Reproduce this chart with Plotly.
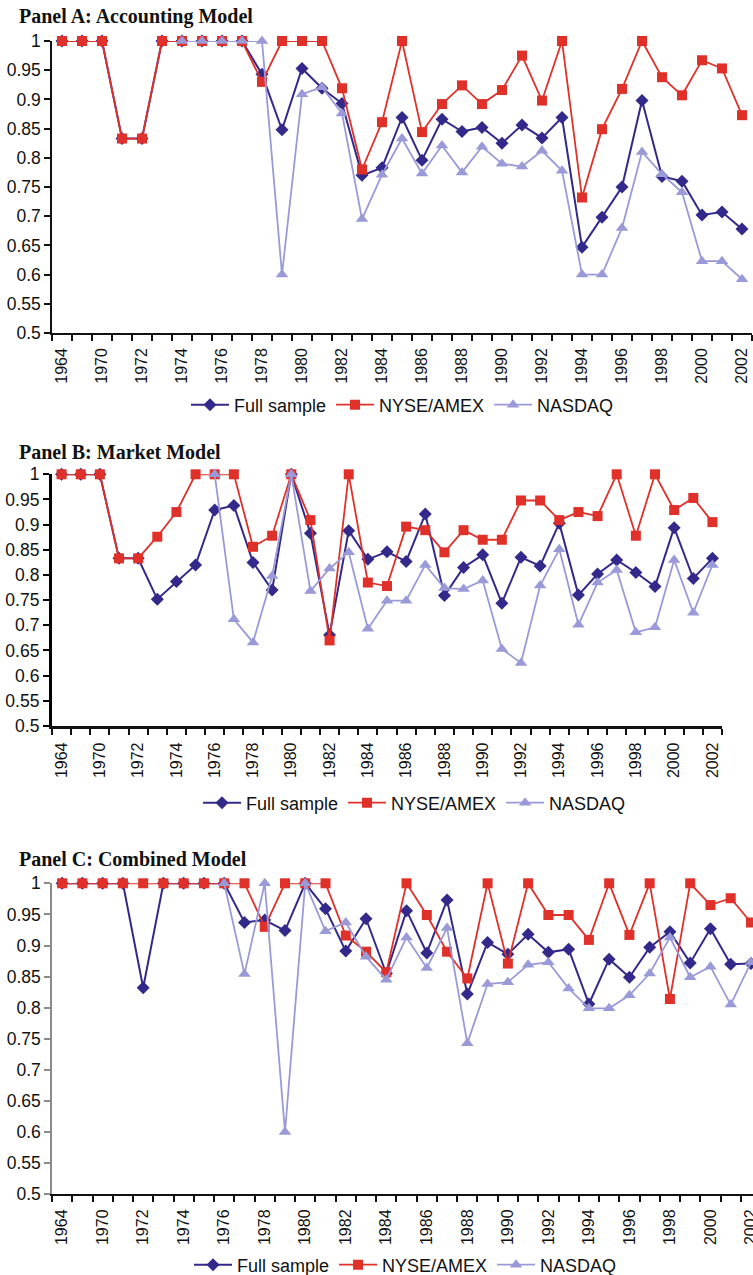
import plotly.graph_objects as go

# ---------------- data ----------------
years = ["1964", "1969"] + [str(y) for y in range(1970, 2003)]  # 35 categories

# Panel A: Accounting Model
a_full = [1, 1, 1, 0.833, 0.833, 1, 1, 1, 1, 1, 0.943, 0.848, 0.953, 0.919, 0.893,
          0.770, 0.783, 0.869, 0.796, 0.866, 0.845, 0.852, 0.825, 0.856, 0.834, 0.869,
          0.647, 0.698, 0.750, 0.898, 0.768, 0.760, 0.702, 0.707, 0.678]
a_nyse = [1, 1, 1, 0.833, 0.833, 1, 1, 1, 1, 1, 0.930, 1, 1, 1, 0.919,
          0.780, 0.861, 1, 0.844, 0.892, 0.924, 0.892, 0.916, 0.975, 0.898, 1,
          0.732, 0.849, 0.918, 1, 0.938, 0.907, 0.967, 0.953, 0.873]
a_nasdaq = [None, None, None, None, None, None, 1, 1, 1, 1, 1, 0.600, 0.909, 0.921, 0.876,
            0.695, 0.771, 0.833, 0.773, 0.821, 0.775, 0.819, 0.790, 0.785, 0.812, 0.778,
            0.600, 0.600, 0.680, 0.810, 0.772, 0.741, 0.623, 0.623, 0.592]

# Panel B: Market Model
b_full = [1, 1, 1, 0.833, 0.833, 0.752, 0.787, 0.820, 0.929, 0.938, 0.825, 0.770, 1, 0.883, 0.681,
          0.888, 0.831, 0.846, 0.827, 0.921, 0.759, 0.815, 0.840, 0.744, 0.835, 0.818,
          0.903, 0.760, 0.802, 0.830, 0.805, 0.777, 0.894, 0.793, 0.833]
b_nyse = [1, 1, 1, 0.833, 0.833, 0.876, 0.925, 1, 1, 1, 0.856, 0.878, 1, 0.909, 0.670,
          1, 0.785, 0.778, 0.896, 0.889, 0.845, 0.889, 0.870, 0.870, 0.948, 0.948,
          0.909, 0.925, 0.917, 1, 0.878, 1, 0.929, 0.953, 0.905]
b_nasdaq = [None, None, None, None, None, None, None, None, 1, 0.712, 0.666, 0.798, 1, 0.768, 0.813,
            0.845, 0.693, 0.749, 0.749, 0.820, 0.774, 0.772, 0.789, 0.653, 0.625, 0.779,
            0.851, 0.701, 0.785, 0.810, 0.686, 0.696, 0.830, 0.725, 0.820]

# Panel C: Combined Model
c_full = [1, 1, 1, 1, 0.832, 1, 1, 1, 1, 0.937, 0.941, 0.924, 1, 0.959, 0.891,
          0.943, 0.855, 0.956, 0.888, 0.973, 0.822, 0.905, 0.886, 0.918, 0.889, 0.894,
          0.806, 0.878, 0.849, 0.897, 0.922, 0.872, 0.927, 0.870, 0.871]
c_nyse = [1, 1, 1, 1, 1, 1, 1, 1, 1, 1, 0.930, 1, 1, 1, 0.916,
          0.890, 0.857, 1, 0.949, 0.890, 0.847, 1, 0.871, 1, 0.949, 0.949,
          0.909, 1, 0.917, 1, 0.814, 1, 0.965, 0.976, 0.937]
c_nasdaq = [None, None, None, None, None, None, None, None, 1, 0.854, 1, 0.600, 1, 0.923, 0.937,
            0.882, 0.845, 0.913, 0.864, 0.928, 0.743, 0.838, 0.841, 0.869, 0.873, 0.831,
            0.799, 0.799, 0.820, 0.855, 0.913, 0.849, 0.866, 0.805, 0.873]

series_names = ["Full sample", "NYSE/AMEX", "NASDAQ"]
panel_titles = ["Panel A: Accounting Model", "Panel B: Market Model", "Panel C: Combined Model"]
y_tick_vals = [0.5, 0.55, 0.6, 0.65, 0.7, 0.75, 0.8, 0.85, 0.9, 0.95, 1.0]
y_tick_text = ["0.5", "0.55", "0.6", "0.65", "0.7", "0.75", "0.8", "0.85", "0.9", "0.95", "1"]

# ---------------- styling ----------------
W, H = 753, 1275
colors = ["#33298a", "#e0302a", "#9a9ad8"]
symbols = ["diamond", "square", "triangle-up"]
msizes = [10, 10, 11]
lwidths = [2, 1.8, 1.8]

x_idx = list(range(len(years)))

panels = [
    dict(top=41, bottom=333, left=52, right=752, rmax=34.5, ycol="#111111", ywid=1.5, xwid=1.5,
         ty=17, ly=405, lx=186),
    dict(top=474.3, bottom=726, left=52, right=722, rmax=34.5, ycol="#000000", ywid=3.2, xwid=3.2,
         ty=452, ly=803, lx=198),
    dict(top=883.3, bottom=1194.3, left=52, right=753, rmax=34.1, ycol="#8a8a8a", ywid=1.5, xwid=1.5,
         ty=859, ly=1265, lx=189),
]

data_sets = [(a_full, a_nyse, a_nasdaq), (b_full, b_nyse, b_nasdaq), (c_full, c_nyse, c_nasdaq)]

fig = go.Figure()
layout = dict(width=W, height=H, margin=dict(l=0, r=0, t=0, b=0, autoexpand=False),
              paper_bgcolor="white", plot_bgcolor="white",
              font=dict(family="Liberation Sans, Arial, sans-serif", color="#111111"))
annotations = []

for p, (pan, ds) in enumerate(zip(panels, data_sets)):
    xa = "x" if p == 0 else f"x{p+1}"
    ya = "y" if p == 0 else f"y{p+1}"
    leg = "legend" if p == 0 else f"legend{p+1}"
    for s in range(3):
        fig.add_trace(go.Scatter(
            x=x_idx, y=ds[s], name=series_names[s], mode="lines+markers",
            line=dict(color=colors[s], width=lwidths[s]),
            marker=dict(symbol=symbols[s], size=msizes[s], color=colors[s]),
            xaxis=xa, yaxis=ya, legend=leg, cliponaxis=False, connectgaps=False,
        ))
    xkey = "xaxis" if p == 0 else f"xaxis{p+1}"
    ykey = "yaxis" if p == 0 else f"yaxis{p+1}"
    layout[xkey] = dict(
        domain=[pan["left"] / W, min(pan["right"] / W, 1.0)],
        range=[-0.5, pan["rmax"]], anchor=ya, automargin=False,
        showgrid=False, zeroline=False, showline=True,
        linecolor="#111111", linewidth=pan["xwid"],
        tickmode="array", tickvals=x_idx[::2], ticktext=years[::2],
        ticks="", tickangle=-90, ticklabelstandoff=7, ticklabeloverflow="allow",
        tickfont=dict(size=16, family="Liberation Sans, Arial, sans-serif", color="#111111"),
        minor=dict(tickmode="linear", tick0=-0.5, dtick=1, ticks="outside",
                   ticklen=6, tickwidth=1.5, tickcolor="#111111", showgrid=False),
    )
    layout[ykey] = dict(
        domain=[1 - pan["bottom"] / H, 1 - pan["top"] / H],
        range=[0.5, 1.0], anchor=xa, automargin=False,
        showgrid=False, zeroline=False, showline=True,
        linecolor=pan["ycol"], linewidth=pan["ywid"],
        tickmode="array", tickvals=y_tick_vals, ticktext=y_tick_text,
        ticks="outside", ticklen=6, tickwidth=1.5, tickcolor=pan["ycol"],
        tickfont=dict(size=17.5, family="Liberation Sans, Arial, sans-serif", color="#111111"),
    )
    layout[leg] = dict(
        orientation="h", x=pan["lx"] / W, xanchor="left",
        y=1 - pan["ly"] / H, yanchor="middle", yref="paper",
        font=dict(size=18, family="Liberation Sans, Arial, sans-serif", color="#111111"),
        bgcolor="rgba(0,0,0,0)", itemwidth=38, tracegroupgap=0,
    )
    annotations.append(dict(
        text=f"<b>{panel_titles[p]}</b>", x=17 / W, y=1 - pan["ty"] / H,
        xref="paper", yref="paper", xanchor="left", yanchor="middle", showarrow=False,
        font=dict(family="Liberation Serif, Times New Roman, serif", size=20, color="#111111"),
    ))

layout["annotations"] = annotations
layout["showlegend"] = True
fig.update_layout(**layout)
fig.write_html("out.html", config={"displayModeBar": False},
               post_script="document.body.style.margin='0';document.body.style.overflow='hidden';")
